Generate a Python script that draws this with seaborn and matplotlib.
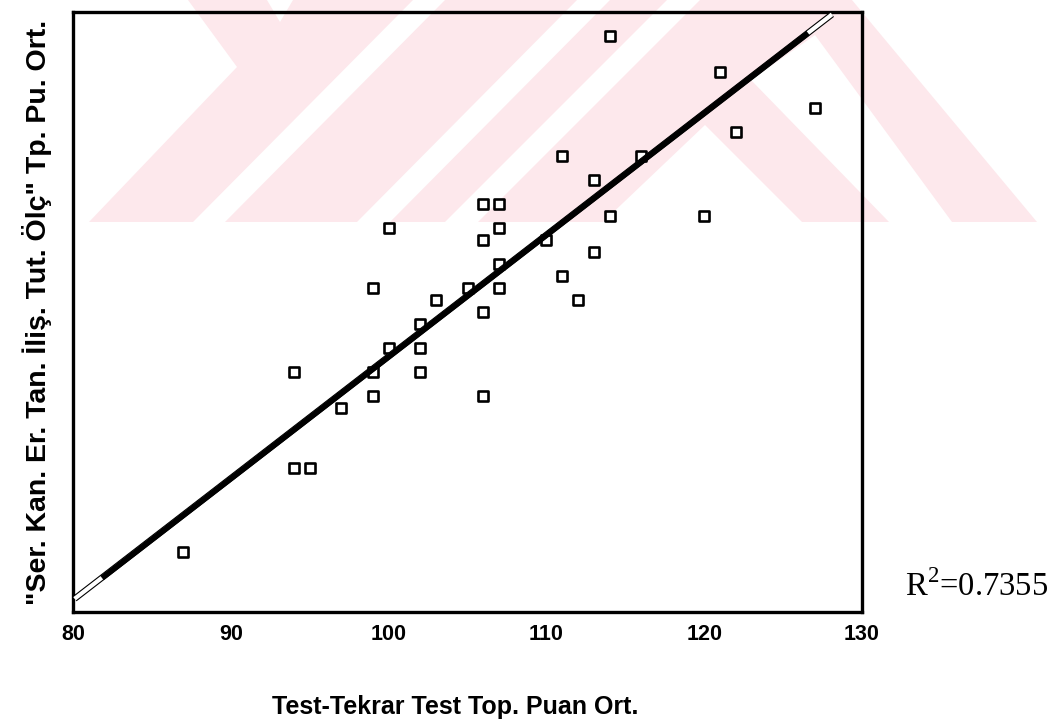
import matplotlib
matplotlib.use("Agg")
import matplotlib.pyplot as plt
import seaborn as sns
import pandas as pd
from matplotlib.patches import Polygon

# ---- data ----
test_retest_mean = [87, 94, 94, 95, 97, 99, 99, 99, 100, 100, 102, 102, 102, 103,
                    105, 106, 106, 106, 106, 107, 107, 107, 107, 110, 111, 111,
                    112, 113, 113, 114, 114, 116, 120, 121, 122, 127]
scale_mean = [5, 20, 12, 12, 17, 27, 20, 18, 32, 22, 24, 22, 20, 26,
              27, 34, 31, 25, 18, 34, 32, 29, 27, 31, 38, 28,
              26, 36, 30, 48, 33, 38, 33, 45, 40, 42]
fit_x_outline = [80.1, 128.1]
fit_y_outline = [1.1, 49.8]
fit_x_solid = [81.84, 126.58]
fit_y_solid = [2.83, 48.25]
x_ticks = [80, 90, 100, 110, 120, 130]
y_ticks = [0, 10, 20, 30, 40, 50]
r_squared = "0.7355"
x_title = "Test-Tekrar Test Top. Puan Ort."
y_title = '"Ser. Kan. Er. Tan. İliş. Tut. Ölç" Tp. Pu. Ort.'

# ---- style ----
sns.set_style("white")
plt.rcParams['font.family'] = ['Liberation Sans', 'DejaVu Sans']
plt.rcParams['mathtext.fontset'] = 'custom'
plt.rcParams['mathtext.rm'] = 'Liberation Serif'
plt.rcParams['text.color'] = 'black'
plt.rcParams['axes.labelcolor'] = 'black'
plt.rcParams['xtick.color'] = 'black'
plt.rcParams['ytick.color'] = 'black'

W, H = 1057, 721
fig = plt.figure(figsize=(W / 100, H / 100), dpi=100)
fig.patch.set_facecolor('white')

# background watermark (decorative, pixel coordinates)
bg = fig.add_axes([0, 0, 1, 1], zorder=0)
bg.set_xlim(0, W)
bg.set_ylim(H, 0)
bg.axis('off')
pink = '#fde8ec'
wm_outer = [(89, 222), (237, 67), (188, 0), (852, 0), (1037, 222)]
wm_cuts = [
    [(193, 222), (225, 222), (445, 0), (413, 0)],
    [(357, 222), (390, 222), (610, 0), (577, 0)],
    [(445, 222), (478, 222), (700, 0), (667, 0)],
    [(267, 0), (293, 0), (280, 22)],
    [(603, 222), (705, 125), (802, 222)],
    [(751, 80), (889, 222), (952, 222), (815, 35)],
]
bg.add_patch(Polygon(wm_outer, closed=True, fc=pink, ec='none'))
for poly in wm_cuts:
    bg.add_patch(Polygon(poly, closed=True, fc='white', ec='none'))

# main axes
ax = fig.add_axes([73 / W, (H - 612) / H, (862 - 73) / W, 600 / H], zorder=1)
ax.patch.set_alpha(0)

df = pd.DataFrame({"x": test_retest_mean, "y": scale_mean})
sns.scatterplot(data=df, x="x", y="y", marker='s', s=44, color='white',
                edgecolor='black', linewidth=1.9, ax=ax, zorder=3)

sns.lineplot(x=fit_x_outline, y=fit_y_outline, color='black', lw=4.6,
             ax=ax, zorder=4, solid_capstyle='butt')
sns.lineplot(x=fit_x_outline, y=fit_y_outline, color='white', lw=3.0,
             ax=ax, zorder=5, solid_capstyle='butt')
sns.lineplot(x=fit_x_solid, y=fit_y_solid, color='black', lw=4.0,
             ax=ax, zorder=6, solid_capstyle='butt')

ax.set_xlim(80, 130)
ax.set_ylim(0, 50)
ax.set_xticks(x_ticks)
ax.set_yticks(y_ticks)
ax.set_yticklabels([])
ax.tick_params(axis='both', direction='inout', length=6, width=2.4,
               color='black', labelcolor='black', labelsize=15.5, pad=6)
for lab in ax.get_xticklabels():
    lab.set_fontweight('bold')
for s in ax.spines.values():
    s.set_visible(True)
    s.set_linewidth(2.4)
    s.set_color('black')

ax.set_xlabel(x_title, fontsize=18, fontweight='bold', color='black')
ax.set_ylabel(y_title, fontsize=20.5, fontweight='bold', color='black')
ax.xaxis.set_label_coords(0.485, -0.138)
ax.xaxis.label.set_va('top')
ax.yaxis.set_label_coords(-0.027, 0.5)

fig.text(905 / W, (H - 587) / H, "R$^{\\mathrm{2}}$=" + r_squared,
         fontsize=23.5, family='Liberation Serif', va='center', ha='left',
         color='black')

fig.savefig("out.png", dpi=100)
